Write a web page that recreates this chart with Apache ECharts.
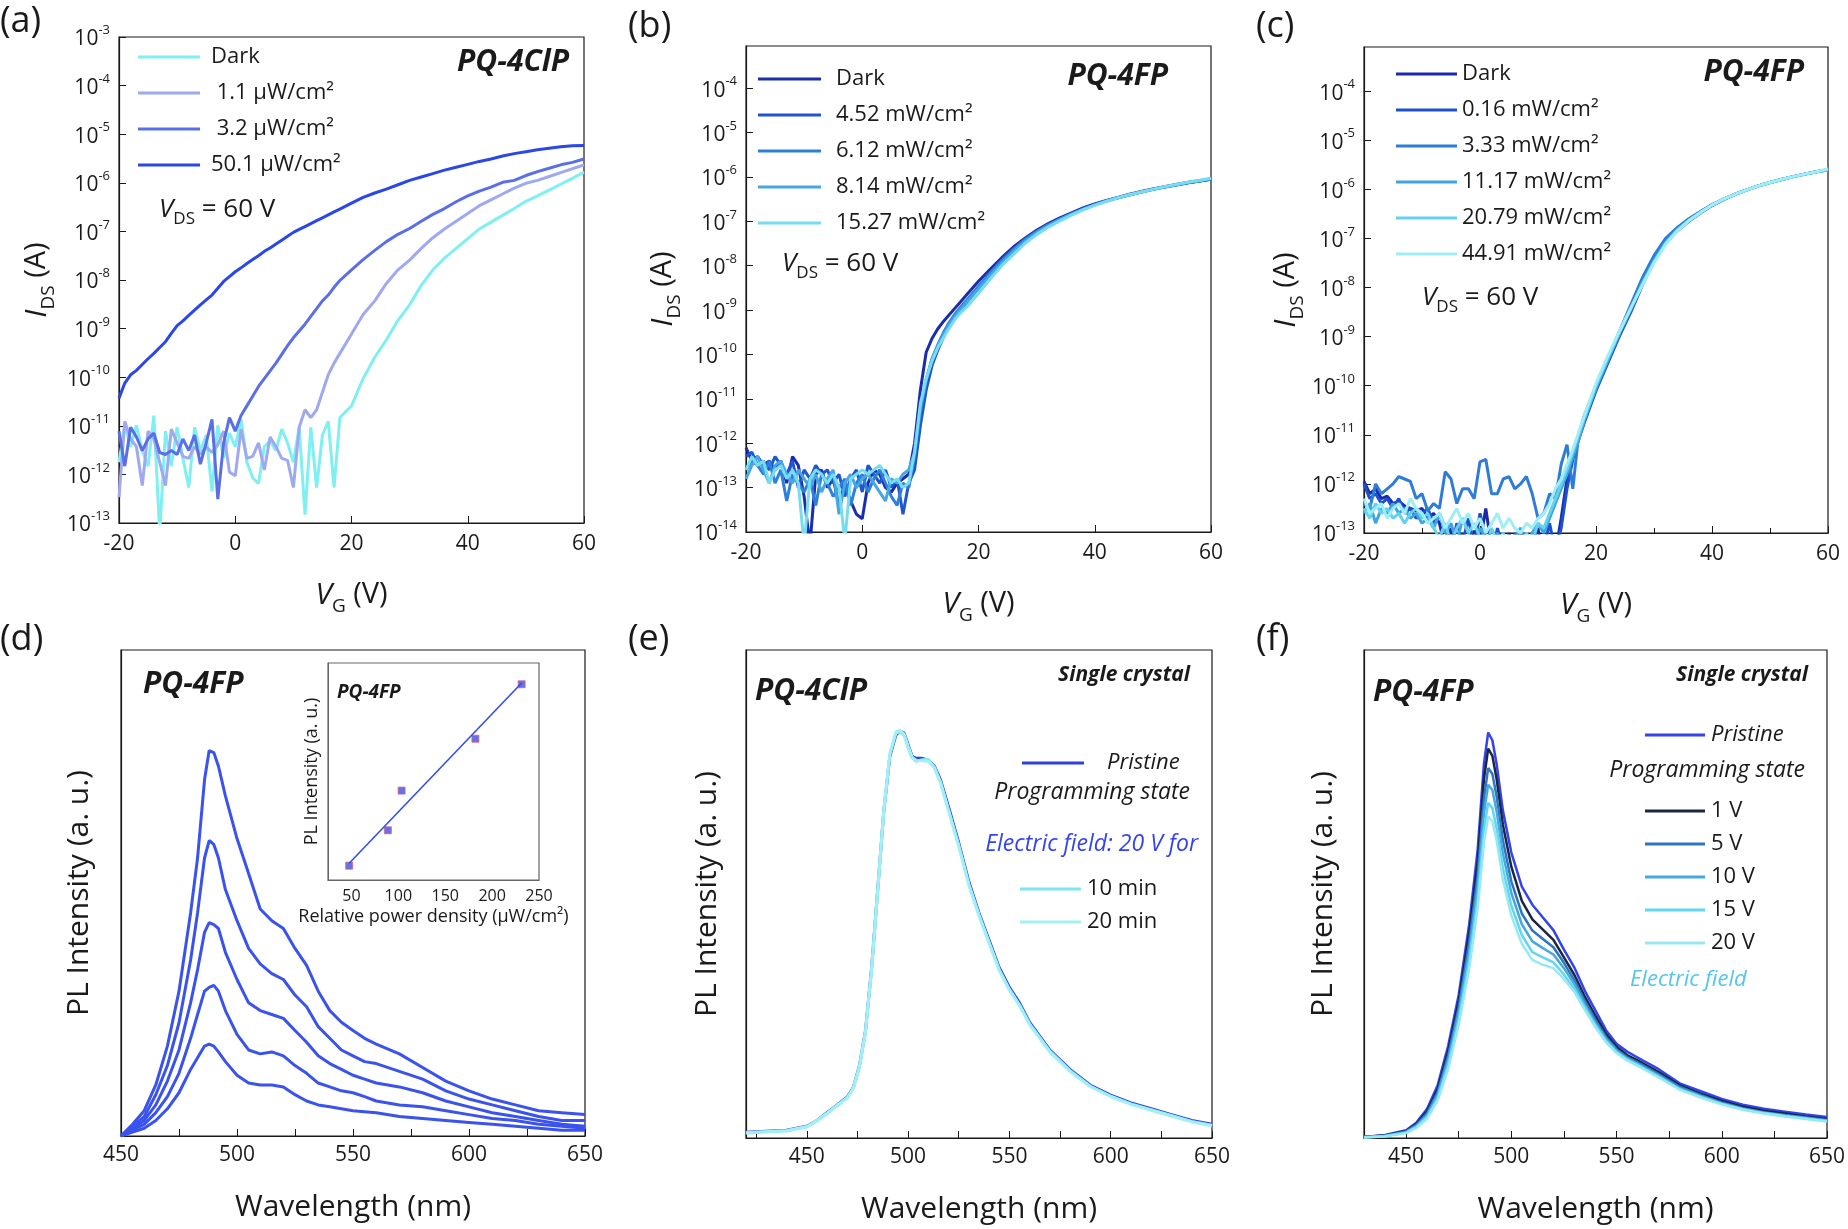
<!DOCTYPE html>
<html>
<head>
<meta charset="utf-8">
<title>PQ-4ClP / PQ-4FP transfer curves and PL spectra</title>
<script src="https://cdn.jsdelivr.net/npm/echarts@6/dist/echarts.min.js"></script>
<style>
  html, body { margin: 0; padding: 0; background: #fff; }
  #chart { width: 1848px; height: 1229px; }
</style>
</head>
<body>
<div id="chart"></div>
<script>
// gate voltage (V) shared by (a)-(c): 1 V steps up to 18 V, then 2 V steps
const vg = [-20,-19,-18,-17,-16,-15,-14,-13,-12,-11,-10,-9,-8,-7,-6,-5,-4,-3,-2,-1,
  0,1,2,3,4,5,6,7,8,9,10,11,12,13,14,15,16,17,18,
  20,22,24,26,28,30,32,34,36,38,40,42,44,46,48,50,52,54,56,58,60];

// (a) PQ-4ClP, log10(I_DS / A)
const aDark = [-11.75,-10.99,-11.43,-10.99,-11.51,-11.83,-10.79,-13.2,-11.11,-11.83,
  -11.03,-11.67,-12.27,-11.03,-11.51,-11.19,-12.35,-10.99,-11.67,-11.15,
  -11.43,-10.87,-11.75,-12.07,-12.19,-11.43,-11.31,-11.51,-11.07,-11.35,
  -11.75,-11.03,-12.83,-11.03,-12.27,-11.19,-10.91,-12.27,-10.83,
  -10.59,-10.03,-9.59,-9.23,-8.83,-8.51,-8.11,-7.79,-7.55,-7.35,
  -7.15,-6.95,-6.81,-6.67,-6.53,-6.38,-6.27,-6.15,-6.03,-5.91,-5.78];
const a1p1 = [-12.47,-10.91,-11.27,-11.43,-12.23,-11.11,-11.27,-11.75,-12.23,-11.07,
  -11.35,-11.63,-11.67,-11.43,-11.59,-11.43,-11.55,-11.39,-11.11,-11.95,
  -12.03,-11.07,-11.67,-11.63,-11.35,-11.91,-11.23,-11.43,-11.67,-11.71,
  -12.27,-11.03,-10.67,-10.83,-10.67,-10.31,-9.95,-9.71,-9.51,
  -9.11,-8.71,-8.43,-8.07,-7.79,-7.59,-7.35,-7.13,-6.95,-6.79,
  -6.63,-6.47,-6.35,-6.23,-6.11,-6.01,-5.95,-5.87,-5.79,-5.71,-5.63];
const a3p2 = [-11.11,-11.83,-11.03,-11.23,-11.51,-11.27,-11.15,-11.55,-11.59,-11.51,
  -11.59,-11.27,-11.51,-11.19,-11.79,-11.35,-10.87,-12.51,-11.35,-10.83,
  -11.11,-10.79,-10.59,-10.39,-10.19,-10.03,-9.87,-9.71,-9.53,-9.35,
  -9.19,-9.05,-8.91,-8.75,-8.59,-8.43,-8.31,-8.15,-8.01,
  -7.79,-7.58,-7.39,-7.21,-7.06,-6.94,-6.79,-6.65,-6.53,-6.39,
  -6.27,-6.17,-6.09,-5.99,-5.95,-5.85,-5.77,-5.70,-5.63,-5.58,-5.51];
const a50p1 = [-10.43,-10.12,-9.95,-9.86,-9.74,-9.62,-9.51,-9.39,-9.27,-9.10,
  -8.94,-8.84,-8.73,-8.62,-8.51,-8.41,-8.31,-8.17,-8.03,-7.93,
  -7.83,-7.75,-7.66,-7.58,-7.50,-7.41,-7.34,-7.26,-7.18,-7.10,
  -7.02,-6.96,-6.90,-6.84,-6.78,-6.72,-6.66,-6.60,-6.54,
  -6.42,-6.30,-6.21,-6.13,-6.04,-5.95,-5.88,-5.81,-5.74,-5.68,
  -5.62,-5.56,-5.51,-5.45,-5.40,-5.36,-5.32,-5.29,-5.26,-5.24,-5.23];

// (b) PQ-4FP, log10(I_DS / A)
const bDark = [-12.1,-12.4,-12.3,-12.5,-12.4,-12.6,-12.4,-12.9,-12.3,-12.5,
  -13.2,-14.3,-12.7,-12.6,-13.0,-12.8,-13.4,-12.9,-13.3,-13.6,
  -13.7,-12.9,-12.6,-12.7,-13.0,-13.1,-12.9,-12.8,-12.7,
  -12.0,-10.8,-9.95,-9.64,-9.42,-9.25,-9.1,-8.95,-8.8,-8.65,
  -8.35,-8.08,-7.82,-7.58,-7.38,-7.2,-7.05,-6.92,-6.81,-6.7,
  -6.61,-6.53,-6.46,-6.39,-6.33,-6.27,-6.22,-6.17,-6.13,-6.09,-6.05];
const b452 = [-12.3,-12.2,-12.5,-12.4,-12.6,-12.3,-12.5,-12.7,-12.4,-13.0,
  -12.6,-12.8,-12.5,-12.7,-12.6,-12.9,-12.7,-13.2,-12.8,-12.6,
  -13.1,-12.5,-12.7,-12.9,-12.6,-13.0,-12.8,-13.6,-12.9,
  -12.6,-11.6,-10.8,-10.25,-9.9,-9.6,-9.35,-9.15,-8.98,-8.82,
  -8.5,-8.2,-7.92,-7.66,-7.43,-7.24,-7.08,-6.95,-6.83,-6.72,
  -6.63,-6.54,-6.47,-6.4,-6.34,-6.28,-6.23,-6.18,-6.13,-6.09,-6.05];
const b612 = [-12.6,-12.4,-12.5,-12.7,-12.4,-12.9,-12.6,-13.3,-12.7,-12.9,
  -13.1,-12.8,-13.4,-12.7,-12.9,-13.2,-13.0,-12.8,-13.4,-12.9,
  -12.7,-13.1,-12.8,-12.6,-12.9,-13.2,-13.4,-12.9,-13.0,
  -12.3,-11.3,-10.6,-10.1,-9.78,-9.5,-9.27,-9.08,-8.92,-8.77,
  -8.46,-8.16,-7.88,-7.63,-7.41,-7.23,-7.08,-6.95,-6.83,-6.72,
  -6.63,-6.54,-6.47,-6.4,-6.34,-6.28,-6.23,-6.18,-6.13,-6.09,-6.04];
const b814 = [-12.8,-12.5,-12.3,-12.6,-12.9,-12.5,-12.4,-12.7,-12.9,-12.6,
  -12.8,-13.0,-12.7,-13.1,-12.8,-12.6,-13.6,-12.9,-12.7,-13.0,
  -12.8,-12.7,-12.9,-13.1,-13.3,-12.8,-12.9,-12.7,-12.6,
  -12.2,-11.2,-10.55,-10.1,-9.8,-9.55,-9.32,-9.13,-8.97,-8.82,
  -8.52,-8.22,-7.94,-7.68,-7.45,-7.26,-7.1,-6.96,-6.84,-6.73,
  -6.63,-6.54,-6.47,-6.4,-6.34,-6.28,-6.22,-6.17,-6.12,-6.08,-6.04];
const b1527 = [-12.6,-12.3,-12.5,-12.4,-12.9,-12.6,-12.5,-12.8,-12.6,-12.9,
  -14.3,-12.8,-12.6,-12.7,-12.9,-12.7,-13.0,-14.2,-12.8,-12.7,
  -12.6,-12.7,-12.6,-12.5,-12.7,-12.9,-12.8,-13.0,-12.9,
  -12.2,-11.1,-10.55,-10.15,-9.85,-9.62,-9.4,-9.2,-9.05,-8.93,
  -8.62,-8.3,-8.0,-7.75,-7.5,-7.3,-7.13,-6.99,-6.86,-6.74,
  -6.64,-6.55,-6.47,-6.4,-6.34,-6.28,-6.22,-6.17,-6.12,-6.08,-6.03];

// (c) PQ-4FP, log10(I_DS / A)
const cDark = [-11.95,-12.2,-12.1,-12.3,-12.25,-12.4,-12.35,-12.45,-12.5,-12.55,
  -12.5,-12.7,-12.6,-12.8,-13.3,-12.9,-13.4,-13.0,-13.5,-12.95,
  -13.2,-12.5,-13.3,-13.1,-13.6,-13.0,-13.4,-12.9,-13.5,-13.2,
  -12.9,-13.6,-13.1,-13.4,-12.7,-11.9,-11.4,-11.0,-10.7,
  -10.05,-9.5,-8.95,-8.42,-7.85,-7.4,-7.05,-6.8,-6.62,-6.46,
  -6.32,-6.2,-6.1,-6.01,-5.93,-5.86,-5.8,-5.74,-5.69,-5.64,-5.6];
const c016 = [-12.0,-12.3,-12.2,-12.4,-12.3,-12.5,-12.3,-12.6,-12.5,-12.7,
  -12.6,-12.5,-12.8,-12.6,-12.9,-13.4,-12.8,-13.2,-12.7,-13.3,
  -12.6,-13.1,-13.5,-12.9,-13.3,-13.6,-13.0,-13.4,-13.2,-13.5,
  -13.1,-13.3,-12.8,-13.4,-12.9,-12.1,-11.5,-11.1,-10.75,
  -10.1,-9.55,-9.0,-8.5,-7.95,-7.45,-7.1,-6.85,-6.65,-6.48,
  -6.33,-6.21,-6.1,-6.01,-5.93,-5.86,-5.8,-5.74,-5.69,-5.64,-5.6];
const c333 = [-12.4,-12.5,-12.0,-12.2,-12.1,-12.0,-11.85,-11.9,-11.95,-12.3,
  -12.2,-12.55,-12.4,-12.5,-11.75,-11.9,-12.4,-12.1,-12.1,-12.3,
  -11.55,-11.5,-12.2,-12.2,-11.9,-11.85,-12.1,-12.0,-11.85,-12.2,
  -12.7,-12.6,-12.2,-12.3,-11.6,-11.2,-12.1,-11.0,-10.6,
  -10.0,-9.45,-8.9,-8.35,-7.8,-7.35,-7.0,-6.78,-6.6,-6.45,
  -6.31,-6.2,-6.1,-6.01,-5.93,-5.86,-5.8,-5.74,-5.69,-5.64,-5.6];
const c1117 = [-12.6,-12.4,-12.8,-12.5,-12.6,-12.4,-12.6,-12.5,-12.7,-12.6,
  -12.8,-12.7,-12.9,-12.6,-13.0,-12.8,-13.2,-12.7,-13.0,-13.3,
  -12.9,-13.1,-13.4,-13.0,-13.2,-13.5,-13.1,-12.9,-13.3,-13.0,
  -12.8,-13.0,-12.7,-12.4,-12.1,-11.8,-11.45,-11.1,-10.7,
  -10.05,-9.5,-8.95,-8.45,-7.9,-7.45,-7.08,-6.82,-6.63,-6.47,
  -6.32,-6.2,-6.1,-6.01,-5.93,-5.86,-5.8,-5.74,-5.69,-5.64,-5.6];
const c2079 = [-12.5,-12.7,-12.4,-12.6,-12.5,-12.7,-12.6,-12.8,-12.6,-12.5,
  -12.7,-12.6,-12.9,-13.1,-12.8,-13.2,-12.9,-12.7,-13.0,-12.8,
  -13.1,-13.3,-12.9,-13.2,-13.0,-13.4,-13.1,-13.3,-13.0,-13.2,
  -12.8,-12.9,-12.6,-12.3,-12.0,-11.7,-11.35,-11.0,-10.65,
  -10.0,-9.45,-8.92,-8.42,-7.92,-7.48,-7.1,-6.83,-6.63,-6.47,
  -6.32,-6.2,-6.1,-6.01,-5.93,-5.86,-5.8,-5.74,-5.69,-5.64,-5.6];
const c4491 = [-12.3,-12.6,-12.5,-12.4,-12.7,-12.5,-12.4,-12.6,-12.3,-12.5,
  -12.6,-12.8,-12.7,-12.6,-12.9,-12.7,-12.5,-12.8,-12.6,-12.9,
  -12.7,-13.0,-12.8,-12.6,-12.9,-12.7,-12.9,-13.0,-12.8,-12.9,
  -12.7,-12.6,-12.4,-12.1,-11.9,-11.6,-11.3,-10.95,-10.6,
  -9.95,-9.4,-8.9,-8.42,-7.95,-7.5,-7.12,-6.85,-6.64,-6.47,
  -6.32,-6.2,-6.1,-6.01,-5.93,-5.86,-5.8,-5.74,-5.69,-5.64,-5.58];

// (d) PQ-4FP PL spectra under five power densities (a.u.)
const dWl = [450,455,460,465,470,475,480,483,486,488,490,492,495,500,505,510,515,520,525,530,
  535,540,545,550,555,560,570,580,590,600,610,620,630,640,650];
const d1 = [0,2.4,5.2,10.5,18.5,29.8,45.9,57.2,73.3,79.3,78.9,76.1,70.0,61.2,54.0,46.7,44.3,42.7,38.6,35.1,
  29.8,25.8,23.4,21.7,20.1,18.9,16.9,14.1,11.3,9.3,7.6,6.4,5.2,4.8,4.4];
const d2 = [0,2.0,4.0,8.5,14.5,23.3,36.2,45.9,57.2,60.8,60.0,57.2,50.7,44.3,38.6,35.4,33.4,32.2,29.0,26.6,
  22.5,20.1,17.7,16.5,15.3,14.9,13.3,11.7,9.3,7.6,6.4,5.2,4.0,3.2,3.2];
const d3 = [0,1.6,3.2,6.4,11.3,17.7,27.4,34.2,41.9,43.9,43.5,42.7,37.8,32.2,27.4,25.8,25.0,24.2,21.7,19.3,
  16.5,14.9,13.7,12.5,11.7,10.9,10.1,8.9,7.2,6.0,4.8,4.0,3.2,2.4,2.0];
const d4 = [0,1.2,2.4,4.8,8.1,12.9,20.1,25.0,29.8,30.6,31.0,29.8,25.8,20.9,17.7,16.9,17.3,16.5,14.5,12.9,
  10.9,10.1,9.3,8.9,8.1,7.2,6.4,6.0,5.2,4.4,3.6,3.2,2.4,2.0,1.6];
const d5 = [0,0.8,1.6,3.2,5.6,8.9,13.7,16.1,18.5,18.9,18.5,17.3,15.3,12.5,10.9,10.5,10.5,10.1,8.5,7.2,
  6.4,6.0,5.6,5.2,5.0,4.8,4.0,3.6,3.2,2.8,2.4,2.0,1.6,1.2,1.2];

// (d) inset: PL intensity vs relative power density
const insPower = [47.6, 88.8, 103.5, 182.2, 231.5];
const insPL = [6.6, 22.9, 41.2, 65.1, 90.2];
const fitPower = [47.6, 231.5];
const fitPL = [7.7, 90.8];

// (e) PQ-4ClP single crystal
const eWl = [420,430,440,450,455,460,465,470,473,476,479,482,485,488,491,494,496,498,500,502,
  504,507,510,513,516,520,525,530,535,540,545,550,555,560,570,580,590,600,610,620,630,640,650];
const ePristine = [1.2,1.4,1.6,2.4,3.6,5.2,6.8,8.4,10.4,14.8,22.1,34.9,50.9,67.0,78.2,82.6,83.4,83.0,80.6,78.2,
  77.8,77.8,77.4,76.2,73.4,67.8,60.5,52.5,46.1,40.5,34.9,30.9,27.7,23.7,18.0,14.0,10.8,8.8,7.2,6.0,4.8,3.6,2.8];
const e10min = [1.0,1.3,1.5,2.3,3.5,5.0,6.6,8.3,10.2,14.5,21.8,34.5,50.6,66.8,78.5,83.0,83.2,82.6,80.0,77.9,
  77.2,77.5,77.6,76.0,73.0,67.2,60.0,52.0,45.8,40.1,34.5,30.5,27.3,23.4,17.8,13.8,10.6,8.6,7.0,5.8,4.6,3.4,2.6];
const e20min = [1.1,1.3,1.5,2.3,3.6,5.1,6.7,8.2,10.3,14.6,22.0,34.7,50.8,67.2,78.8,83.2,83.5,82.8,80.3,78.0,
  77.4,77.3,77.2,75.8,72.8,67.0,59.8,51.8,45.5,39.9,34.3,30.3,27.1,23.2,17.6,13.6,10.5,8.5,6.9,5.7,4.5,3.3,2.5];

// (f) PQ-4FP single crystal
const fWl = [430,440,450,455,460,465,470,475,480,484,487,489,491,493,496,500,505,510,515,520,
  525,530,535,540,545,550,555,560,570,580,590,600,610,620,630,640,650];
const fPristine = [0.2,0.6,1.6,3.2,6.0,10.8,18.9,29.3,43.8,59.0,76.7,83.1,81.5,76.7,67.1,58.5,51.5,47.8,45.2,42.6,
  38.6,34.9,30.1,26.1,22.1,19.3,17.7,16.5,14.1,11.2,9.6,8.0,6.8,6.0,5.4,4.8,4.3];
const f1V = [0.2,0.5,1.4,2.9,5.5,10.0,17.8,28.0,42.0,56.5,73.5,79.8,78.3,73.6,64.2,55.6,48.6,44.8,42.7,40.6,
  37.0,33.4,28.9,25.0,21.3,18.7,17.0,15.9,13.5,10.8,9.1,7.6,6.4,5.6,5.0,4.4,3.9];
const f5V = [0.2,0.5,1.3,2.7,5.1,9.4,16.9,26.8,40.1,53.8,69.6,75.8,74.6,70.1,61.0,52.6,46.0,42.5,40.8,39.1,
  35.9,32.3,28.0,24.2,20.7,18.2,16.6,15.5,13.1,10.5,8.8,7.3,6.1,5.3,4.7,4.2,3.7];
const f10V = [0.2,0.4,1.2,2.5,4.7,8.8,16.0,25.6,38.3,51.5,66.5,72.4,71.3,67.0,58.3,50.2,43.8,40.3,38.9,37.6,
  34.8,31.5,27.3,23.6,20.3,17.9,16.3,15.2,12.8,10.2,8.6,7.1,6.0,5.2,4.6,4.1,3.6];
const f15V = [0.1,0.4,1.1,2.3,4.3,8.2,15.0,24.3,36.4,49.0,63.1,68.7,67.6,63.5,55.3,47.6,41.6,38.1,37.0,36.0,
  33.5,30.6,26.7,23.1,19.9,17.6,16.1,15.0,12.6,10.0,8.4,7.0,5.9,5.1,4.5,4.0,3.5];
const f20V = [0.1,0.3,1.0,2.1,4.0,7.7,14.2,23.2,34.8,47.0,60.5,65.9,64.9,61.0,53.0,45.6,39.8,36.5,35.5,34.8,
  32.6,29.9,26.2,22.7,19.6,17.4,15.9,14.8,12.4,9.9,8.3,6.9,5.8,5.0,4.4,3.9,3.4];

// tick lists
const aDecades = [-13,-12,-11,-10,-9,-8,-7,-6,-5,-4,-3];
const bDecades = [-14,-13,-12,-11,-10,-9,-8,-7,-6,-5,-4];
const cDecades = [-13,-12,-11,-10,-9,-8,-7,-6,-5,-4];
const wlLabels = [450, 500, 550, 600, 650];
const eWlTicks = [425, 450, 475, 500, 525, 550, 575, 600, 625, 650];
const fWlTicks = [450, 475, 500, 525, 550, 575, 600, 625, 650];
const insTicks = [50, 100, 150, 200, 250];

const FONT = '"Open Sans", "Noto Sans", sans-serif';
const INK = '#1a1a1a';

const chart = echarts.init(document.getElementById('chart'));

function pairs(xs, ys) { return xs.map((x, i) => [x, ys[i]]); }
function logPairs(xs, es) { return xs.map((x, i) => [x, Math.pow(10, es[i])]); }

function line(name, gi, data, color, width) {
  return {
    name: name, type: 'line', xAxisIndex: gi, yAxisIndex: gi, data: data,
    showSymbol: false, symbol: 'none', silent: true,
    lineStyle: { color: color, width: width || 3 },
    itemStyle: { color: color }
  };
}

// 10^n labels on the log axes
function powLabel(v) {
  const e = Math.log10(v);
  const r = Math.round(e);
  if (Math.abs(e - r) > 1e-4) return '';
  return '{b|10}{s|' + r + '}';
}

const subRich = {
  i: { fontSize: 30, fontStyle: 'italic', fontFamily: FONT, color: INK, lineHeight: 36, verticalAlign: 'top' },
  sub: { fontSize: 19, fontFamily: FONT, color: INK, lineHeight: 21, verticalAlign: 'bottom' },
  n: { fontSize: 29, fontFamily: FONT, color: INK, lineHeight: 36, verticalAlign: 'top' }
};

function vgAxis(gi, minor, gap) {
  return {
    type: 'value', gridIndex: gi, min: -20, max: 60, interval: 20,
    axisLine: { onZero: false, lineStyle: { color: INK, width: 1.2 } },
    axisTick: { inside: true, length: 7, lineStyle: { color: INK } },
    minorTick: { show: !!minor, splitNumber: 2, length: 5, lineStyle: { color: INK } },
    splitLine: { show: false },
    axisLabel: { fontSize: 21, fontFamily: FONT, color: INK, margin: 11 },
    name: '{i|V}{sub|G}{n| (V)}', nameLocation: 'middle', nameGap: gap,
    nameTextStyle: { rich: subRich }
  };
}

function idsAxis(gi, min, max, decades, gap) {
  const vals = decades.map(e => Math.pow(10, e));
  return {
    type: 'log', logBase: 10, gridIndex: gi, min: min, max: max,
    axisLine: { onZero: false, lineStyle: { color: INK, width: 1.2 } },
    axisTick: { inside: true, length: 7, customValues: vals, lineStyle: { color: INK } },
    splitLine: { show: false },
    axisLabel: {
      margin: 9, formatter: powLabel, customValues: vals,
      rich: {
        b: { fontSize: 21, fontFamily: FONT, color: INK, lineHeight: 26, verticalAlign: 'bottom' },
        s: { fontSize: 13, fontFamily: FONT, color: INK, lineHeight: 13, verticalAlign: 'top' }
      }
    },
    name: '{i|I}{sub|DS}{n| (A)}', nameLocation: 'middle', nameGap: gap, nameRotate: 90,
    nameTextStyle: { rich: subRich }
  };
}

function wlAxis(gi, min, tickVals, minor) {
  const ax = {
    type: 'value', gridIndex: gi, min: min, max: 650,
    axisLine: { onZero: false, lineStyle: { color: INK, width: 1.2 } },
    axisTick: { inside: true, length: 7, lineStyle: { color: INK } },
    splitLine: { show: false },
    axisLabel: { fontSize: 21, fontFamily: FONT, color: INK, margin: 9 },
    name: 'Wavelength (nm)', nameLocation: 'middle', nameGap: 56,
    nameTextStyle: { fontSize: 30, fontFamily: FONT, color: INK }
  };
  if (minor) {
    ax.interval = 50;
    ax.minorTick = { show: true, splitNumber: 2, length: 7, lineStyle: { color: INK } };
  } else {
    ax.axisTick.customValues = tickVals;
    ax.axisLabel.customValues = wlLabels;
  }
  return ax;
}

function plAxis(gi, gap) {
  return {
    type: 'value', gridIndex: gi, min: 0, max: 100,
    axisLine: { onZero: false, lineStyle: { color: INK, width: 1.2 } },
    axisTick: { show: false }, axisLabel: { show: false }, splitLine: { show: false },
    name: 'PL Intensity (a. u.)', nameLocation: 'middle', nameGap: gap, nameRotate: 90,
    nameTextStyle: { fontSize: 30, fontFamily: FONT, color: INK }
  };
}

function txt(x, y, text, size, opt) {
  opt = opt || {};
  return {
    type: 'text', x: x, y: y, silent: true,
    style: {
      text: text, fontSize: size, fontFamily: FONT,
      fontWeight: opt.bold ? 'bold' : 'normal', fontStyle: opt.italic ? 'italic' : 'normal',
      fill: opt.color || INK,
      align: opt.align || 'left', textAlign: opt.align || 'left',
      verticalAlign: 'middle', textVerticalAlign: 'middle',
      rich: opt.rich
    }
  };
}

const vdsRich = {
  i: { fontSize: 26, fontStyle: 'italic', fontFamily: FONT, color: INK, lineHeight: 31, verticalAlign: 'top' },
  sub: { fontSize: 17, fontFamily: FONT, color: INK, lineHeight: 18, verticalAlign: 'bottom' },
  n: { fontSize: 26, fontFamily: FONT, color: INK, lineHeight: 31, verticalAlign: 'top' }
};
const vdsText = '{i|V}{sub|DS}{n| = 60 V}';

const stripName = n => n.split('::')[1];
function legend(left, top, names, width, gap, pad, italic) {
  return {
    orient: 'vertical', left: left, top: top, data: names, icon: 'rect',
    itemWidth: width, itemHeight: 3, itemGap: gap, selectedMode: false,
    formatter: stripName,
    textStyle: { fontSize: 22, lineHeight: 22, fontFamily: FONT, color: INK,
      fontStyle: italic ? 'italic' : 'normal', padding: [0, 0, 0, pad] }
  };
}

const gridBox = { show: true, borderColor: INK, borderWidth: 1.2, backgroundColor: 'transparent' };

const option = {
  animation: false,
  backgroundColor: '#fff',
  grid: [
    Object.assign({ left: 119, top: 37, width: 465, height: 486 }, gridBox),
    Object.assign({ left: 746, top: 46, width: 465, height: 486 }, gridBox),
    Object.assign({ left: 1364, top: 47, width: 464, height: 486 }, gridBox),
    Object.assign({ left: 121, top: 650, width: 464, height: 486 }, gridBox),
    { show: true, left: 328, top: 663, width: 211, height: 217, borderColor: '#666', borderWidth: 1.2, backgroundColor: '#fff' },
    Object.assign({ left: 746, top: 650, width: 466, height: 488 }, gridBox),
    Object.assign({ left: 1364, top: 650, width: 465, height: 488 }, gridBox)
  ],
  xAxis: [
    vgAxis(0, false, 57),
    vgAxis(1, false, 57),
    vgAxis(2, true, 57),
    wlAxis(3, 450, null, true),
    {
      type: 'value', gridIndex: 4, min: 25, max: 250,
      axisLine: { onZero: false, lineStyle: { color: '#666' } }, axisTick: { show: false }, splitLine: { show: false },
      axisLabel: { customValues: insTicks, fontSize: 16, fontFamily: FONT, color: INK, margin: 8 },
      name: 'Relative power density (μW/cm²)', nameLocation: 'middle', nameGap: 28,
      nameTextStyle: { fontSize: 18, fontFamily: FONT, color: INK }
    },
    wlAxis(5, 420, eWlTicks, false),
    wlAxis(6, 430, fWlTicks, false)
  ],
  yAxis: [
    idsAxis(0, 1e-13, 1e-3, aDecades, 61),
    idsAxis(1, 1e-14, Math.pow(10, -3.05), bDecades, 62),
    idsAxis(2, 1e-13, Math.pow(10, -3.1), cDecades, 57),
    plAxis(3, 27),
    {
      type: 'value', gridIndex: 4, min: 0, max: 100,
      axisLine: { onZero: false, lineStyle: { color: '#666' } }, axisTick: { show: false },
      axisLabel: { show: false }, splitLine: { show: false },
      name: 'PL Intensity (a. u.)', nameLocation: 'middle', nameGap: 7, nameRotate: 90,
      nameTextStyle: { fontSize: 18, fontFamily: FONT, color: INK }
    },
    plAxis(5, 24),
    plAxis(6, 26)
  ],
  legend: [
    legend(133, 41, ['a::Dark', 'a:: 1.1 μW/cm²', 'a:: 3.2 μW/cm²', 'a::50.1 μW/cm²'], 62, 14, 6),
    legend(753, 63, ['b::Dark', 'b::4.52 mW/cm²', 'b::6.12 mW/cm²', 'b::8.14 mW/cm²', 'b::15.27 mW/cm²'], 63, 14, 10),
    legend(1391, 58, ['c::Dark', 'c::0.16 mW/cm²', 'c::3.33 mW/cm²', 'c::11.17 mW/cm²', 'c::20.79 mW/cm²', 'c::44.91 mW/cm²'], 61, 14, 0),
    legend(1017, 747, ['e::Pristine'], 62, 11, 18, true),
    legend(1015, 873, ['e::10 min', 'e::20 min'], 61, 11, 1),
    legend(1640, 719, ['f::Pristine'], 60, 11, 1, true),
    legend(1640, 795, ['f::1 V', 'f::5 V', 'f::10 V', 'f::15 V', 'f::20 V'], 60, 11, 1)
  ],
  series: [
    // (a)
    line('a::Dark', 0, logPairs(vg, aDark), '#7EEFF2'),
    line('a:: 1.1 μW/cm²', 0, logPairs(vg, a1p1), '#9EA9F0'),
    line('a:: 3.2 μW/cm²', 0, logPairs(vg, a3p2), '#5A6FE6'),
    line('a::50.1 μW/cm²', 0, logPairs(vg, a50p1), '#2A47E8'),
    // (b)
    line('b::Dark', 1, logPairs(vg, bDark), '#1B2DAF'),
    line('b::4.52 mW/cm²', 1, logPairs(vg, b452), '#1F56CF'),
    line('b::6.12 mW/cm²', 1, logPairs(vg, b612), '#2C80DA'),
    line('b::8.14 mW/cm²', 1, logPairs(vg, b814), '#46A7E3'),
    line('b::15.27 mW/cm²', 1, logPairs(vg, b1527), '#76DDF0'),
    // (c)
    line('c::Dark', 2, logPairs(vg, cDark), '#1A2AA8'),
    line('c::0.16 mW/cm²', 2, logPairs(vg, c016), '#1D50CF'),
    line('c::3.33 mW/cm²', 2, logPairs(vg, c333), '#2C7CD8'),
    line('c::11.17 mW/cm²', 2, logPairs(vg, c1117), '#40A4E1'),
    line('c::20.79 mW/cm²', 2, logPairs(vg, c2079), '#64D1EE'),
    line('c::44.91 mW/cm²', 2, logPairs(vg, c4491), '#A0EEF5'),
    // (d)
    line('d1', 3, pairs(dWl, d1), '#3A52EE'),
    line('d2', 3, pairs(dWl, d2), '#3A52EE'),
    line('d3', 3, pairs(dWl, d3), '#3A52EE'),
    line('d4', 3, pairs(dWl, d4), '#3A52EE'),
    line('d5', 3, pairs(dWl, d5), '#3A52EE'),
    line('fit', 4, pairs(fitPower, fitPL), '#2E4BE6', 1.5),
    {
      name: 'inset', type: 'scatter', xAxisIndex: 4, yAxisIndex: 4, silent: true,
      data: pairs(insPower, insPL), symbol: 'rect', symbolSize: 7,
      itemStyle: { color: '#3B4FE3', borderColor: '#E0607A', borderWidth: 1 }
    },
    // (e)
    line('e::Pristine', 5, pairs(eWl, ePristine), '#2F3FE0', 3),
    line('e::10 min', 5, pairs(eWl, e10min), '#7DE6EF', 3),
    line('e::20 min', 5, pairs(eWl, e20min), '#A2F0F5', 3),
    // (f)
    line('f::Pristine', 6, pairs(fWl, fPristine), '#3343EE', 2.5),
    line('f::1 V', 6, pairs(fWl, f1V), '#1B2642', 2.5),
    line('f::5 V', 6, pairs(fWl, f5V), '#2E77C0', 2.5),
    line('f::10 V', 6, pairs(fWl, f10V), '#45A9E0', 2.5),
    line('f::15 V', 6, pairs(fWl, f15V), '#62D6F0', 2.5),
    line('f::20 V', 6, pairs(fWl, f20V), '#96E9F3', 2.5)
  ],
  graphic: [
    txt(0, 22, '(a)', 36),
    txt(628, 27, '(b)', 36),
    txt(1256, 27, '(c)', 36),
    txt(0, 640, '(d)', 36),
    txt(628, 640, '(e)', 36),
    txt(1256, 640, '(f)', 36),
    txt(569, 62, 'PQ-4ClP', 30, { bold: true, italic: true, align: 'right' }),
    txt(1168, 76, 'PQ-4FP', 30, { bold: true, italic: true, align: 'right' }),
    txt(1804, 72, 'PQ-4FP', 30, { bold: true, italic: true, align: 'right' }),
    txt(159, 212, vdsText, 26, { rich: vdsRich }),
    txt(782, 266, vdsText, 26, { rich: vdsRich }),
    txt(1422, 300, vdsText, 26, { rich: vdsRich }),
    txt(143, 684, 'PQ-4FP', 30, { bold: true, italic: true }),
    txt(337, 693, 'PQ-4FP', 19, { bold: true, italic: true }),
    txt(1190, 675, 'Single crystal', 21, { bold: true, italic: true, align: 'right' }),
    txt(755, 691, 'PQ-4ClP', 30, { bold: true, italic: true }),
    txt(1190, 792, 'Programming state', 23, { italic: true, align: 'right' }),
    txt(1198, 844, 'Electric field: 20 V for', 23, { italic: true, align: 'right', color: '#3344EE' }),
    txt(1808, 675, 'Single crystal', 21, { bold: true, italic: true, align: 'right' }),
    txt(1373, 692, 'PQ-4FP', 30, { bold: true, italic: true }),
    txt(1805, 770, 'Programming state', 23, { italic: true, align: 'right' }),
    txt(1630, 980, 'Electric field', 22, { italic: true, color: '#55C5EE' })
  ]
};

chart.setOption(option);
</script>
</body>
</html>
